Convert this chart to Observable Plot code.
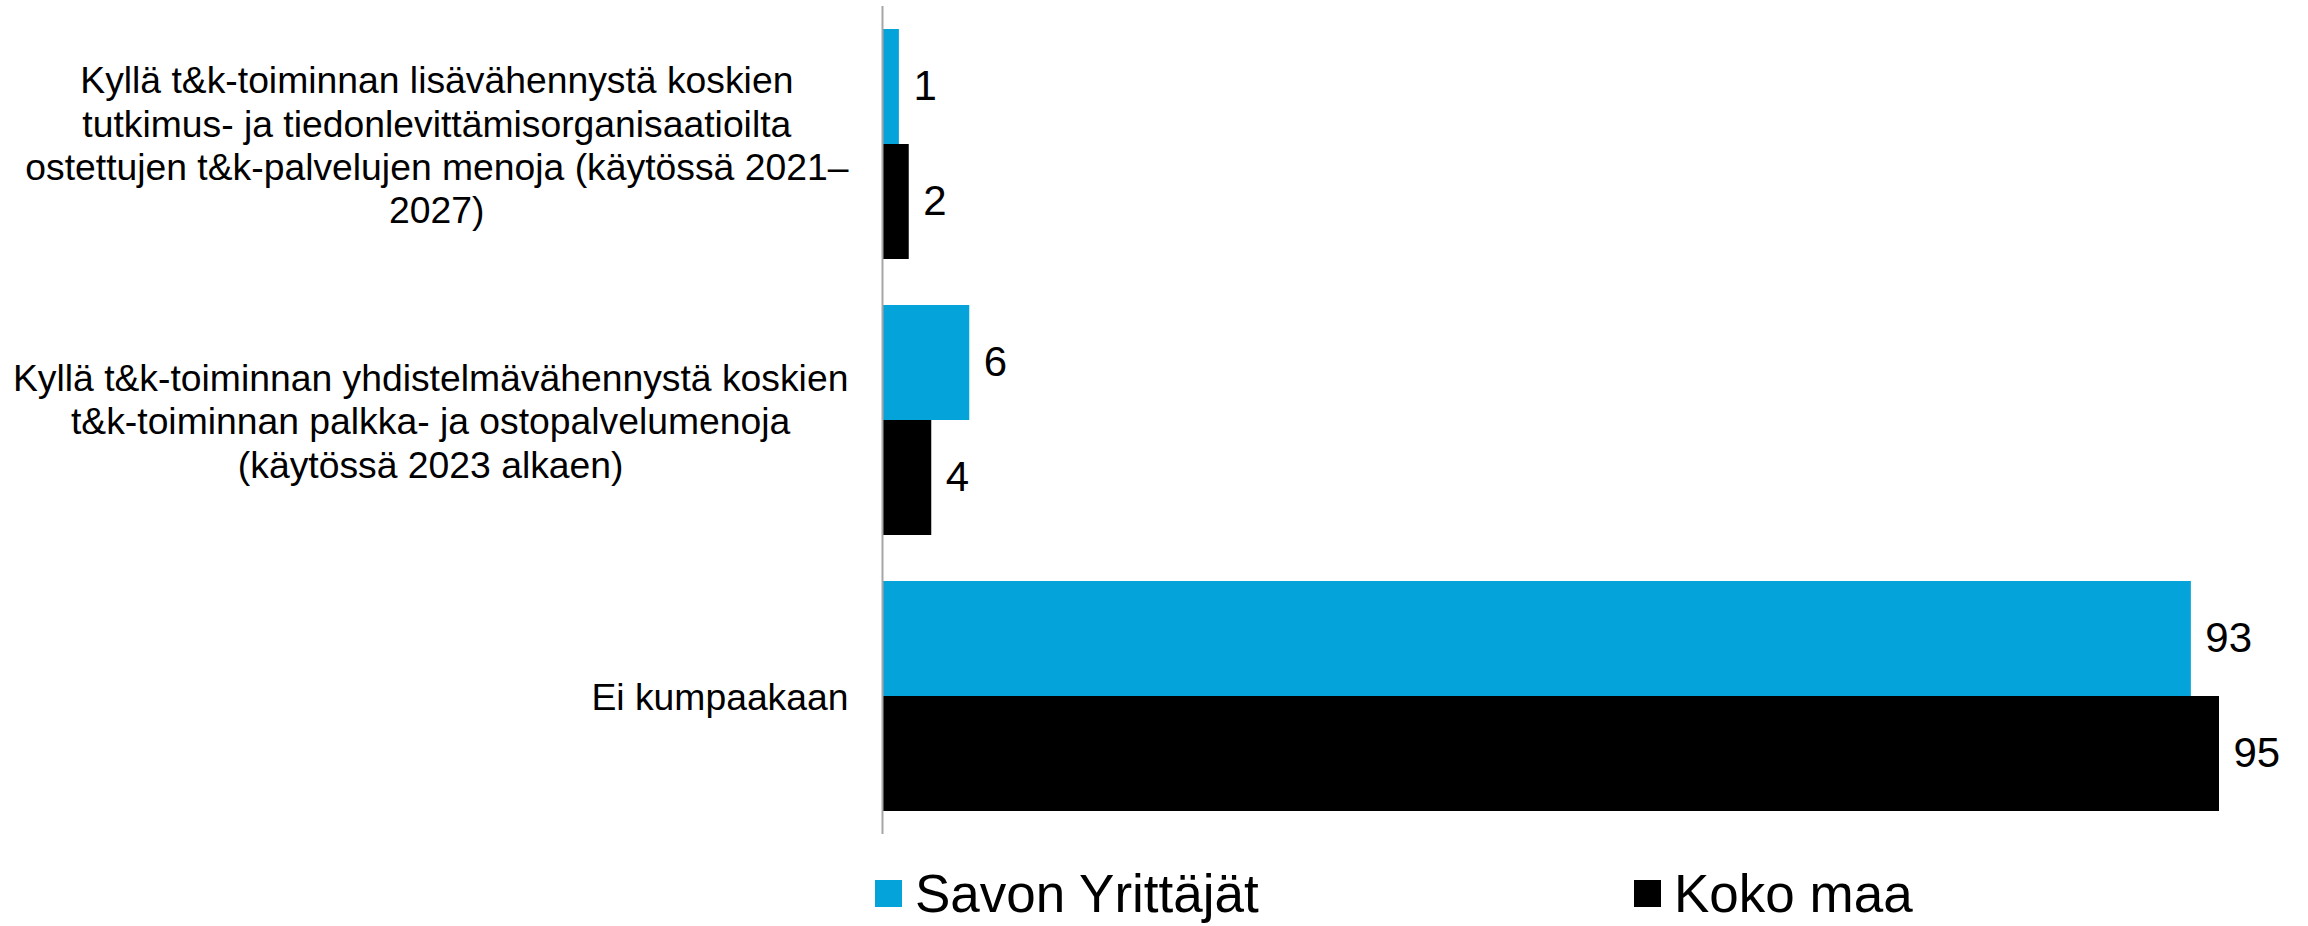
<!DOCTYPE html>
<html>
<head>
<meta charset="utf-8">
<script src="https://cdn.jsdelivr.net/npm/d3@7"></script>
<script src="https://cdn.jsdelivr.net/npm/@observablehq/plot@0.6"></script>
<style>
  html, body { margin: 0; padding: 0; background: #fff; }
  body { width: 2308px; height: 926px; overflow: hidden; font-family: "Liberation Sans", Arial, sans-serif; }
  #legend { display: flex; align-items: center; height: 66px; padding-left: 875px; }
  .item { display: flex; align-items: center; font-size: 53px; color: #000; }
  .item:first-child { width: 759px; }
  .sw { width: 27px; height: 27px; margin-right: 13px; flex: none; }
</style>
</head>
<body>
<div id="chart"></div>
<div id="legend"></div>
<script>
const categories = [
  "Kyllä t&k-toiminnan lisävähennystä koskien tutkimus- ja tiedonlevittämisorganisaatioilta ostettujen t&k-palvelujen menoja (käytössä 2021–2027)",
  "Kyllä t&k-toiminnan yhdistelmävähennystä koskien t&k-toiminnan palkka- ja ostopalvelumenoja (käytössä 2023 alkaen)",
  "Ei kumpaakaan"
];
const tickLabels = [
  "Kyllä t&k-toiminnan lisävähennystä koskien\ntutkimus- ja tiedonlevittämisorganisaatioilta\nostettujen t&k-palvelujen menoja (käytössä 2021–\n2027)",
  "Kyllä t&k-toiminnan yhdistelmävähennystä koskien\nt&k-toiminnan palkka- ja ostopalvelumenoja\n(käytössä 2023 alkaen)",
  "Ei kumpaakaan"
];
const series = ["Savon Yrittäjät", "Koko maa"];
const savonValues = [1.2, 6.2, 93];
const kokoValues = [1.9, 3.5, 95];
const colors = ["#04a4da", "#000000"];

const rows = [];
categories.forEach((c, i) => {
  rows.push({category: c, series: series[0], value: savonValues[i]});
  rows.push({category: c, series: series[1], value: kokoValues[i]});
});
const labelRows = categories.map((c, i) => ({category: c, label: tickLabels[i]}));

const plot = Plot.plot({
  width: 2308,
  height: 860,
  marginLeft: 882,
  marginRight: 89,
  marginTop: 6,
  marginBottom: 26,
  style: {fontFamily: '"Liberation Sans", Arial, sans-serif', background: "#fff"},
  x: {domain: [0, 95], axis: null},
  y: {domain: series, padding: 0, axis: null},
  fy: {domain: categories, axis: null, paddingInner: 0.167, paddingOuter: 0.08},
  color: {domain: series, range: colors},
  marks: [
    Plot.barX(rows, {fy: "category", y: "series", x: "value", fill: "series"}),
    Plot.text(rows, {fy: "category", y: "series", x: "value", text: d => d3.format(".0f")(d.value),
      textAnchor: "start", dx: 14, fontSize: 42, fill: "#000"}),
    Plot.text(labelRows, {fy: "category", text: "label", frameAnchor: "left", textAnchor: "end",
      dx: -34, fontSize: 37.3, lineHeight: 1.16, fill: "#000"}),
    Plot.ruleX([0], {stroke: "#a6a6a6", strokeWidth: 2, insetTop: -23, insetBottom: -23})
  ]
});
document.getElementById("chart").append(plot);

// centre the lines of each category label within its right-aligned block
const flat = tickLabels.map(s => s.replace(/\n/g, ""));
plot.querySelectorAll("text").forEach(t => {
  if (!flat.includes(t.textContent)) return;
  const b = t.getBBox();
  t.setAttribute("text-anchor", "middle");
  t.querySelectorAll("tspan").forEach(s => s.setAttribute("text-anchor", "middle"));
  const tr = t.getAttribute("transform") || "";
  t.setAttribute("transform", tr + ` translate(${-b.width / 2},0)`);
});

const legend = d3.select("#legend");
series.forEach((s, i) => {
  const it = legend.append("div").attr("class", "item");
  it.append("div").attr("class", "sw").style("background", colors[i]);
  it.append("span").text(s);
});
</script>
</body>
</html>
